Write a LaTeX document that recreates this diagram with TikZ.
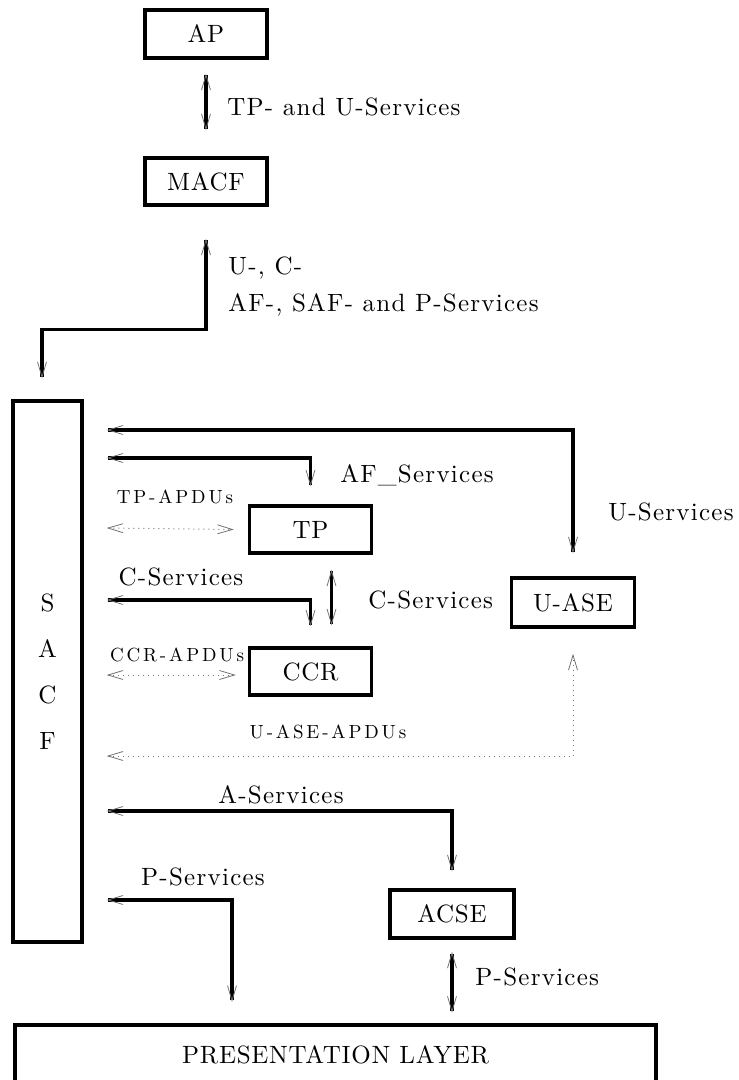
\documentclass[tikz,border=0pt]{standalone}
\usepackage{fontspec}
\setmainfont{lmroman10-regular}[Extension=.otf]
\usetikzlibrary{arrows.meta,positioning}

\begin{document}
\begin{tikzpicture}[
            x=0.5pt, y=-0.5pt,
            box/.style={rectangle, draw, line width=1.7pt, inner sep=0pt, minimum width=61pt, minimum height=23.5pt, font=\fontsize{12.5}{14}\selectfont\addfontfeatures{LetterSpace=3}},
            lbl/.style={inner sep=0pt, font=\fontsize{12.5}{14}\selectfont\addfontfeatures{LetterSpace=5}},
            pdulbl/.style={inner sep=0pt, font=\fontsize{9.5}{11}\selectfont\addfontfeatures{LetterSpace=15}},
            barb/.style={>={Straight Barb[length=7.5pt,width=4.5pt,line width=0.4pt,color=black!55]}, <->},
            svc/.style={barb, line width=1.6pt},
            apdu/.style={barb, line width=0.5pt, dotted, draw=black!55}
        ]
            \useasboundingbox (0,0) rectangle (738,1080);
            \clip (0,0) rectangle (738,1080);

            % boxes
            \node[box, minimum height=24pt] (AP) at (206,34) {AP};
            \node[box] (MACF) at (206,181.5) {MACF};
            \node[box, minimum width=34.5pt, minimum height=270.5pt, align=center, font=\fontsize{12.5}{23}\selectfont] (SACF) at (47.5,671.5) {S\\A\\C\\F};
            \node[box] (TP) at (310.5,529.5) {TP};
            \node[box] (CCR) at (310.5,671.5) {CCR};
            \node[box, minimum width=61.5pt, minimum height=24.5pt] (UASE) at (573,602.5) {U-ASE};
            \node[box, minimum width=62pt, minimum height=24pt] (ACSE) at (452,914) {ACSE};
            \node[box, minimum width=320.5pt, minimum height=30pt] (PL) at (335.5,1055) {PRESENTATION LAYER};

            \coordinate (sin) at ([xshift=11.5pt]SACF.east);
            \coordinate (sacftop) at ([xshift=-2.75pt,yshift=10.5pt]SACF.north);
            \coordinate (plin) at (232,1002);

            % services
            \draw[svc] ([yshift=-7pt]AP.south) -- ([yshift=13pt]MACF.north);
            \draw[svc] ([yshift=-16pt]MACF.south) -- ++(0,91) -| (sacftop);
            \draw[svc] (sin |- 0,430) -| ([yshift=11.5pt]UASE.north);
            \draw[svc] (sin |- 0,458) -| ([yshift=9pt]TP.north);
            \draw[svc] (sin |- 0,600) -| ([yshift=10pt]CCR.north);
            \draw[svc] ([xshift=10.5pt,yshift=-7.5pt]TP.south) -- ([xshift=10.5pt,yshift=10.5pt]CCR.north);
            \draw[svc] (sin |- 0,811) -| ([yshift=8.5pt]ACSE.north);
            \draw[svc] (sin |- 0,900) -| (plin);
            \draw[svc] ([yshift=-6pt]ACSE.south) -- ++(0,61);

            % APDUs
            \draw[apdu] (sin |- 0,528) -- ([xshift=-7pt]TP.west);
            \draw[apdu] (sin |- 0,675) -- ([xshift=-6pt,yshift=-1.75pt]CCR.west);
            \draw[apdu] (sin |- 0,756) -| ([yshift=-12.5pt]UASE.south);

            % labels
            \node[lbl, anchor=west] (tpu) at (227,107) {TP- and U-Services};
            \node[lbl, anchor=west, align=left, font=\fontsize{12.5}{18.5}\selectfont\addfontfeatures{LetterSpace=5}] (macfsvc) at (228,286.5) {U-, C-\\AF-, SAF- and P-Services};
            \node[lbl, anchor=west] (afsvc) at (340,475) {AF\_Services};
            \node[lbl, anchor=east] (usvc) at (734,512) {U-Services};
            \node[lbl] (csvcl) at (181,577) {C-Services};
            \node[lbl, anchor=west] (csvcr) at (368,600) {C-Services};
            \node[lbl] (asvc) at (281,795) {A-Services};
            \node[lbl] (psvcl) at (203,877) {P-Services};
            \node[lbl, anchor=west] (psvcr) at (475,977) {P-Services};
            \node[pdulbl] (tppdu) at (175,497) {TP-APDUs};
            \node[pdulbl] (ccrpdu) at (177,655) {CCR-APDUs};
            \node[pdulbl] (uasepdu) at (328,732) {U-ASE-APDUs};
        \end{tikzpicture}
\end{document}
